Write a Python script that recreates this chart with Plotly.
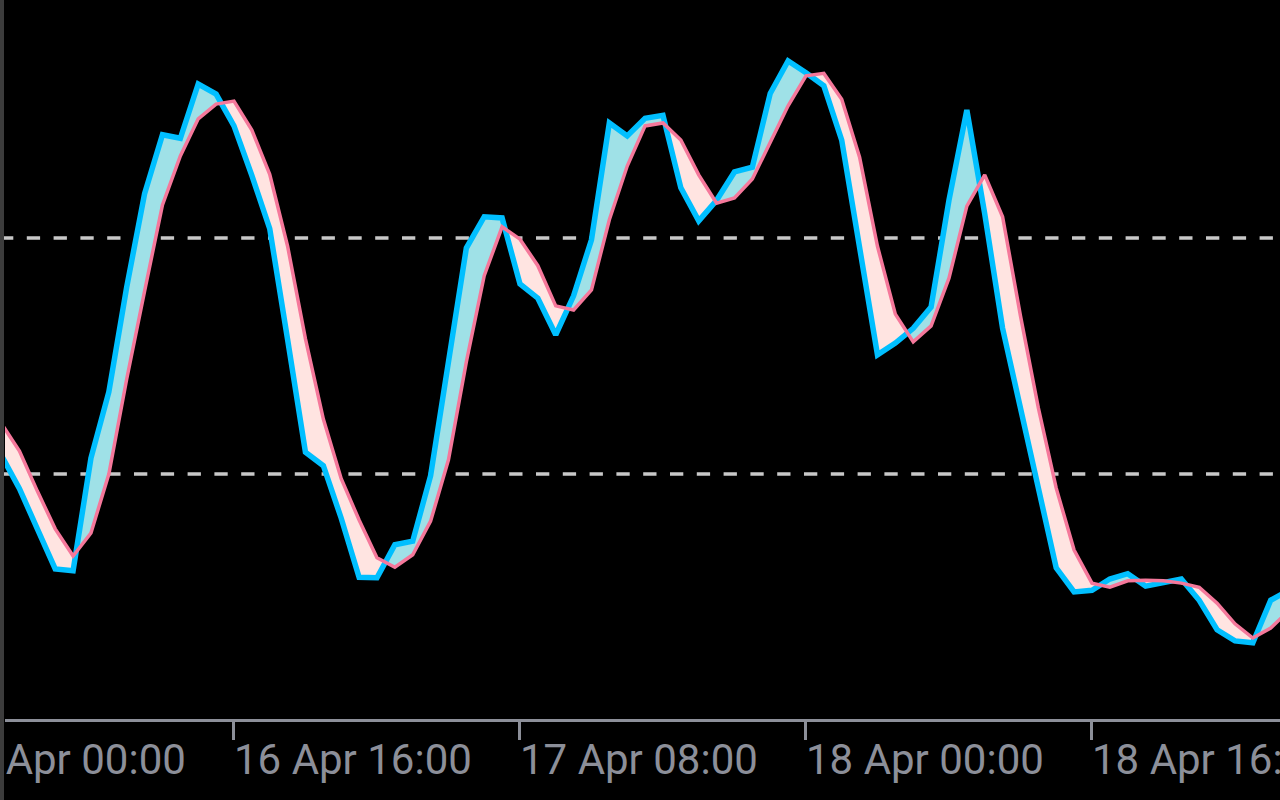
import numpy as np
import pandas as pd
import plotly.graph_objects as go

# ---------------- data (hourly bars) ----------------
bar_times = pd.date_range("2024-04-16 03:00", periods=73, freq="h")

main_k = [33.1, 27.5, 20.7, 13.9, 13.6, 32.7, 43.9, 61.7, 77.5, 87.5,
          86.9, 96.1, 94.4, 89.0, 80.6, 71.6, 52.8, 33.7, 31.4, 22.5,
          12.5, 12.4, 18.0, 18.6, 29.7, 49.0, 68.3, 73.6, 73.4, 62.2,
          59.8, 53.6, 60.2, 69.7, 89.5, 87.3, 90.3, 90.8, 78.5, 72.9,
          76.4, 81.2, 82.0, 94.5, 100.0, 98.0, 95.8, 86.6, 69.0, 50.2,
          52.2, 54.7, 58.3, 76.4, 91.7, 74.1, 54.7, 41.5, 27.3, 14.1,
          10.0, 10.3, 12.2, 13.1, 11.0, 11.5, 12.2, 8.6, 3.6, 1.7,
          1.4, 8.6, 10.3]

signal_d = [38.5, 33.9, 27.1, 20.7, 16.1, 20.0, 30.0, 46.1, 61.0, 75.6,
            83.9, 90.2, 92.7, 93.2, 88.3, 80.8, 68.6, 52.9, 39.3, 29.2,
            22.2, 15.8, 14.2, 16.3, 22.0, 32.4, 49.0, 63.6, 71.9, 69.8,
            65.3, 58.5, 57.8, 61.2, 73.1, 82.2, 89.0, 89.5, 86.6, 80.7,
            75.9, 76.8, 80.0, 86.1, 92.4, 97.5, 97.9, 93.5, 83.7, 68.6,
            57.1, 52.4, 55.1, 63.2, 75.4, 80.7, 73.6, 56.8, 41.2, 27.6,
            17.1, 11.5, 10.8, 11.9, 12.0, 11.9, 11.5, 10.8, 8.1, 4.6,
            2.2, 3.9, 6.8]

levels = [70, 30]

tick_times = ["2024-04-16 00:00", "2024-04-16 16:00", "2024-04-17 08:00",
              "2024-04-18 00:00", "2024-04-18 16:00"]
tick_labels = ["16 Apr 00:00", "16 Apr 16:00", "17 Apr 08:00",
               "18 Apr 00:00", "18 Apr 16:00"]

# ---------------- styling ----------------
BLUE = "#00BFFF"
PINK = "#F5789B"
FILL_UP = "#9FE1E7"
FILL_DN = "#FFE4E1"
AXIS_COL = "#8C8F99"
LEVEL_COL = "#C8C8C8"

x_range = [pd.Timestamp("2024-04-16 03:11:25"), pd.Timestamp("2024-04-19 02:31:10")]
y_range = [-11.53, 110.34]

W, H = 1280, 800
ML, MR, MT, MB = 5, 0, 0, 81
PW, PH = W - ML - MR, H - MT - MB

fig = go.Figure()

# ---------------- fill between the two lines ----------------
t0 = bar_times[0]
hrs = np.array([(t - t0).total_seconds() / 3600.0 for t in bar_times])
m = np.array(main_k, dtype=float)
s = np.array(signal_d, dtype=float)
d = m - s

regions = []
cx, cm, cs = [hrs[0]], [m[0]], [s[0]]
sign = d[0] >= 0
for i in range(1, len(hrs)):
    if (d[i] >= 0) != sign:
        f = d[i - 1] / (d[i - 1] - d[i])
        xc = hrs[i - 1] + f * (hrs[i] - hrs[i - 1])
        yc = m[i - 1] + f * (m[i] - m[i - 1])
        cx.append(xc); cm.append(yc); cs.append(yc)
        regions.append((sign, cx, cm, cs))
        cx, cm, cs = [xc], [yc], [yc]
        sign = not sign
    cx.append(hrs[i]); cm.append(m[i]); cs.append(s[i])
regions.append((sign, cx, cm, cs))

for up, rx, rm, rs in regions:
    px = list(rx) + list(rx[::-1])
    py = list(rm) + list(rs[::-1])
    tx = [t0 + pd.Timedelta(hours=float(h)) for h in px]
    fig.add_trace(go.Scatter(
        x=tx, y=py, mode="lines", fill="toself",
        fillcolor=FILL_UP if up else FILL_DN,
        line=dict(width=0), hoverinfo="skip", showlegend=False))

# ---------------- lines ----------------
fig.add_trace(go.Scatter(x=bar_times, y=main_k, mode="lines",
                         line=dict(color=BLUE, width=5.5), showlegend=False,
                         name="Main"))
fig.add_trace(go.Scatter(x=bar_times, y=signal_d, mode="lines",
                         line=dict(color=PINK, width=3.5), showlegend=False,
                         name="Signal"))

# ---------------- level lines ----------------
shapes = []
for lv in levels:
    shapes.append(dict(type="line", xref="paper", yref="y",
                       x0=-ML / PW, x1=1, y0=lv, y1=lv,
                       line=dict(color=LEVEL_COL, width=3.5, dash="13.3px,13.5px"),
                       layer="below"))
# left window border
shapes.append(dict(type="rect", xref="paper", yref="paper",
                   x0=-ML / PW, x1=-1 / PW, y0=-MB / PH, y1=1,
                   fillcolor="#3C3C3C", line=dict(width=0)))

# ---------------- time labels (left-aligned at tick) ----------------
span = (x_range[1] - x_range[0]).total_seconds()
annotations = []
for tt, lab in zip(tick_times, tick_labels):
    frac = (pd.Timestamp(tt) - x_range[0]).total_seconds() / span
    annotations.append(dict(x=frac, y=-40 / PH, xref="paper", yref="paper",
                            text=lab, showarrow=False, xanchor="left",
                            yanchor="middle", xshift=-2,
                            font=dict(family="Roboto", size=42, color=AXIS_COL)))

fig.update_layout(
    width=W, height=H,
    margin=dict(l=ML, r=MR, t=MT, b=MB),
    paper_bgcolor="#000000", plot_bgcolor="#000000",
    shapes=shapes, annotations=annotations,
    xaxis=dict(type="date", range=x_range, showgrid=False, zeroline=False,
               showline=True, linecolor=AXIS_COL, linewidth=3,
               ticks="outside", ticklen=18, tickwidth=3, tickcolor=AXIS_COL,
               tickvals=tick_times, showticklabels=False, fixedrange=True),
    yaxis=dict(range=y_range, visible=False, showgrid=False, zeroline=False,
               fixedrange=True),
    hovermode=False,
)

fig.write_html("out.html", config={"displayModeBar": False},
               post_script="document.body.style.margin='0';document.body.style.overflow='hidden';")
